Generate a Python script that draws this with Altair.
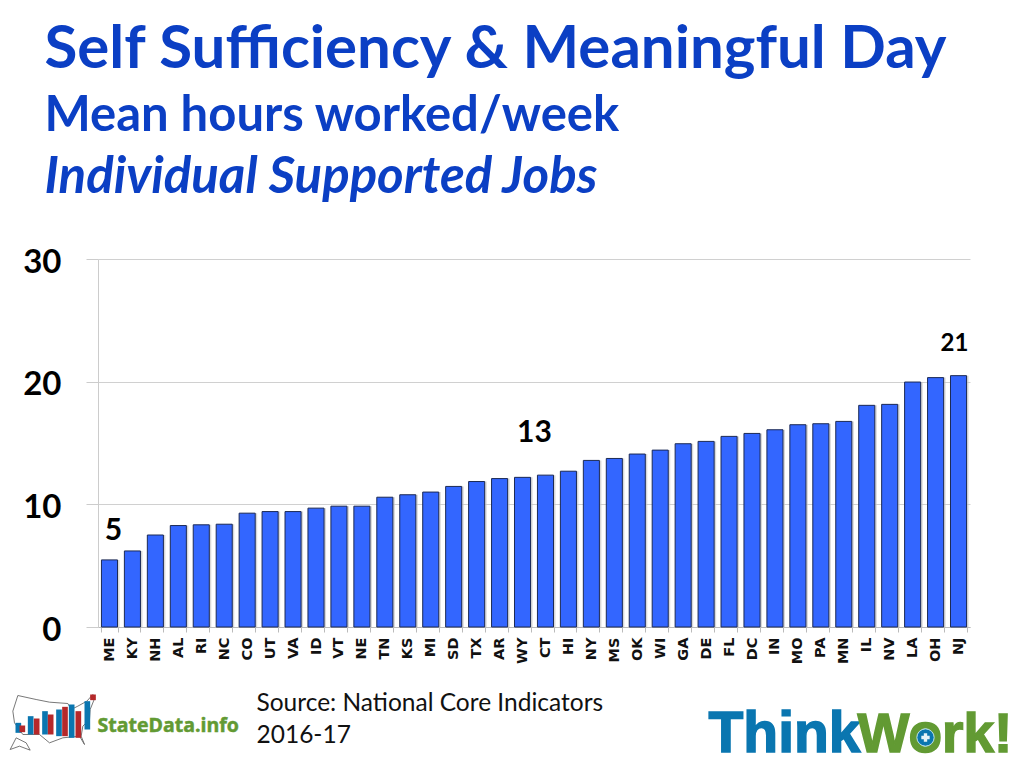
import altair as alt
import pandas as pd

states = ["ME","KY","NH","AL","RI","NC","CO","UT","VA","ID","VT","NE","TN","KS","MI","SD","TX","AR","WY","CT","HI","NY","MS","OK","WI","GA","DE","FL","DC","IN","MO","PA","MN","IL","NV","LA","OH","NJ"]
hours = [5.47,6.2,7.5,8.27,8.33,8.38,9.28,9.41,9.41,9.69,9.85,9.85,10.58,10.78,11.0,11.46,11.86,12.1,12.2,12.38,12.7,13.58,13.74,14.1,14.42,14.94,15.13,15.54,15.78,16.08,16.49,16.57,16.76,18.07,18.15,19.97,20.33,20.49]
ann_states = ["ME","WY","NJ"]
ann_text = ["5","13","21"]
titles = ["Self Sufficiency & Meaningful Day","Mean hours worked/week","Individual Supported Jobs"]
source = ["Source: National Core Indicators","2016-17"]

# StateData.info logo, in its own small coordinate system
logo_left = [48,60,85,103,128,145,170,188,208,228,255,272]
logo_top = [130,138,110,117,95,105,90,82,75,95,65,45]
logo_base = [160,158,165,165,165,165,170,170,175,175,150,62]
logo_col = ["#0a76b0","#b5282a"]*6
map_x = [40,55,110,150,205,215,235,262,280,286,272,270,250,245,255,240,190,150,120,70,45,40]
map_y = [95,48,60,68,72,90,80,65,45,55,90,120,140,170,195,170,175,190,165,165,130,95]
ak_x = [32,50,80,92,60,32]
ak_y = [210,175,190,212,200,210]

df = pd.DataFrame({"state": states, "hours": hours})
band = alt.Scale(domain=states, paddingInner=0.3, paddingOuter=0.15)
lin = alt.Scale(domain=[0,30], nice=False)
xs_plain = alt.X("state:N", sort=states, title=None, scale=band, axis=None)
ys_plain = alt.Y("hours:Q", title=None, scale=lin, axis=None)
xs = alt.X("state:N", sort=states, title=None, scale=band,
           axis=alt.Axis(labelAngle=270, labelAlign="right", labelBaseline="middle", labelFont="DejaVu Sans",
                         labelFontWeight="bold", labelFontSize=14.5, labelColor="#111", labelPadding=5,
                         tickBand="extent", tickSize=5, tickColor="#bbbbbb", domainColor="#bbbbbb", grid=False,
                         labelOverlap=False, labelBound=False))
ys = alt.Y("hours:Q", title=None, scale=lin,
           axis=alt.Axis(values=[0,10,20,30], labelFont="Lato", labelFontWeight="bold", labelFontSize=33,
                         labelColor="#000", labelPadding=25, labelOffset=3, tickSize=12, tickColor="#cccccc",
                         domainColor="#cccccc", gridColor="#d0d0d0", grid=True))

shadow = alt.Chart(df).mark_bar(color="#c8c8c8", xOffset=2, opacity=0.7).encode(x=xs_plain, y=ys_plain)
bars = alt.Chart(df).mark_bar(color="#3366ff", stroke="#1c2a55", strokeWidth=1).encode(x=xs, y=ys)

def ann(i, size, dx, dy):
    d = pd.DataFrame({"state":[ann_states[i]], "hours":[hours[states.index(ann_states[i])]], "t":[ann_text[i]]})
    return alt.Chart(d).mark_text(font="Lato", fontWeight="bold", fontSize=size, color="#000", dx=dx, dy=dy).encode(
        x=xs_plain, y=ys_plain, text="t:N")

def label(text, x, y, size, color, weight="normal", style="normal", font="Lato", **kw):
    d = pd.DataFrame({"t":[text]})
    return alt.Chart(d).mark_text(font=font, fontSize=size, fontWeight=weight, fontStyle=style, color=color,
                                  align="left", baseline="alphabetic", **kw).encode(
        x=alt.value(x), y=alt.value(y), text="t:N")

BLUE = "#0b3fc4"
ox, oy = 98.5, 259.5
texts = [
    label(titles[0], 45-ox, 68-oy, 60, BLUE, "bold"),
    label(titles[1], 45-ox, 131-oy, 49, BLUE, "bold"),
    label(titles[2], 45-ox, 193-oy, 51, BLUE, "bold", "italic"),
    label(source[0], 257-ox, 711-oy, 24.5, "#111"),
    label(source[1], 257-ox, 743-oy, 24.5, "#111"),
    label("StateData.info", 98-ox, 732-oy, 19.5, "#629a33", "bold", font="Open Sans", stroke="#629a33", strokeWidth=0.5),
    label("Think", 709-ox, 752-oy, 57, "#0a76b0", "bold", font="Liberation Sans", stroke="#0a76b0", strokeWidth=1.5),
    label("Work!", 858-ox, 752-oy, 55, "#629a33", "bold", font="Liberation Sans", stroke="#629a33", strokeWidth=1.5),
]

lx = alt.Scale(domain=[0,1050], range=[-ox, 350-ox], nice=False, zero=False)
ly = alt.Scale(domain=[0,264], range=[680-oy, 768-oy], nice=False, zero=False)
ldf = pd.DataFrame({"l":logo_left,"r":[a+17 for a in logo_left],"t":logo_top,"b":logo_base,"c":logo_col})
logo_bars = alt.Chart(ldf).mark_rect().encode(
    x=alt.X("l:Q", scale=lx, axis=None), x2="r:Q",
    y=alt.Y("t:Q", scale=ly, axis=None), y2="b:Q", color=alt.Color("c:N", scale=None))
outline = pd.DataFrame({"x":map_x+ak_x, "y":map_y+ak_y, "part":["us"]*len(map_x)+["ak"]*len(ak_x), "o":list(range(len(map_x)+len(ak_x)))})
logo_line = alt.Chart(outline).mark_line(color="#555", strokeWidth=0.8).encode(
    x=alt.X("x:Q", scale=lx, axis=None), y=alt.Y("y:Q", scale=ly, axis=None), detail="part:N", order="o:Q")
dot = pd.DataFrame({"x":[2778],"y":[174]})
tw_dot = alt.Chart(dot).mark_point(filled=True, size=300, color="#0a76b0", opacity=1, stroke="#bfe3ee", strokeWidth=1).encode(
    x=alt.X("x:Q", scale=lx, axis=None), y=alt.Y("y:Q", scale=ly, axis=None))
tw_star = alt.Chart(dot).mark_point(filled=True, size=70, shape="cross", color="#e6f4f8", opacity=1).encode(
    x=alt.X("x:Q", scale=lx, axis=None), y=alt.Y("y:Q", scale=ly, axis=None))

chart = alt.layer(
    shadow, bars, ann(0,30,4,-29), ann(1,30,12,-44), ann(2,24,-4,-32), *texts, logo_line, logo_bars, tw_dot, tw_star
).resolve_scale(x="independent", y="independent").properties(
    width=872, height=368,
    autosize=alt.AutoSizeParams(type="none"),
    padding={"left":90,"top":251,"right":46,"bottom":140},
).configure_view(stroke=None).configure_axis(gridWidth=1)

chart.save("out.html", embed_options={"renderer": "svg", "actions": False})
